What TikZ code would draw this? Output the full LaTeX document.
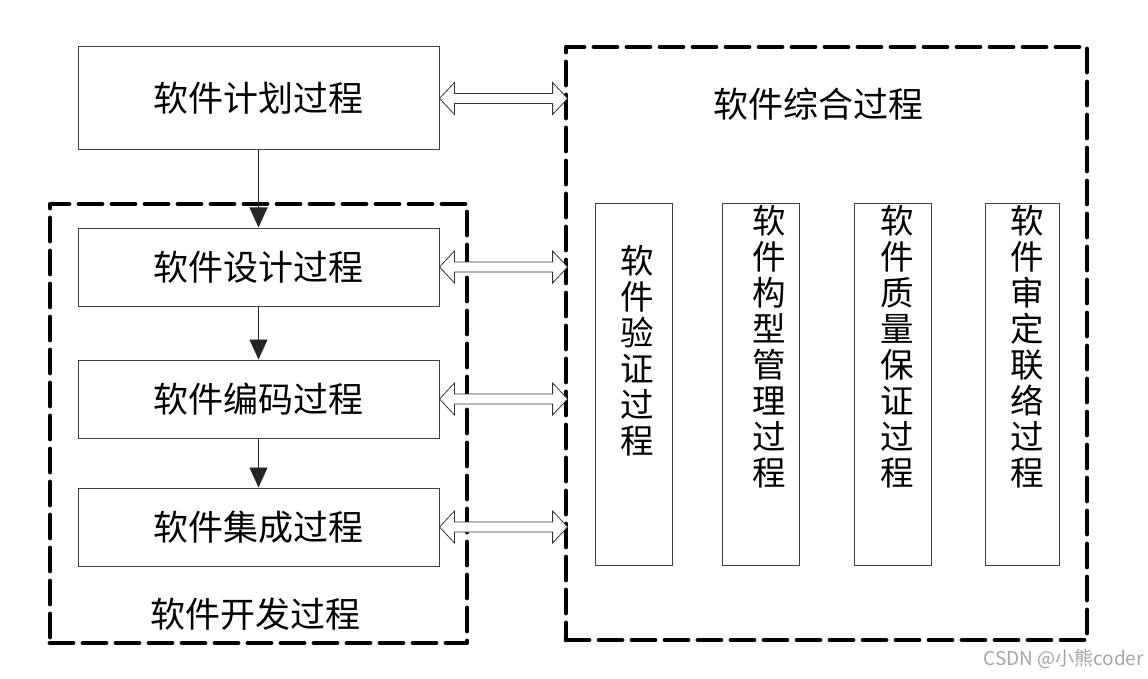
\documentclass[tikz,border=0pt]{standalone}
\usepackage{fontspec}
\newfontfamily\cjk{Noto Sans CJK SC}
\usetikzlibrary{calc,arrows.meta}
\newcommand\dblarrow[2]{\draw[black!80, line width=0.8pt, fill=white] let \p1=#1, \p2=#2 in
  (\x1,\y1) -- (\x1+15pt,\y1+16pt) -- (\x1+15pt,\y1+5pt) -- (\x2-15pt,\y1+5pt) -- (\x2-15pt,\y1+16pt)
  -- (\x2,\y1) -- (\x2-15pt,\y1-16pt) -- (\x2-15pt,\y1-5pt) -- (\x1+15pt,\y1-5pt) -- (\x1+15pt,\y1-16pt) -- cycle;}
\begin{document}
\begin{tikzpicture}[x=1pt,y=-1pt,
  txt/.style={font=\cjk\fontsize{35}{36}\selectfont},
  box/.style={txt, draw=black!75, line width=1pt, minimum width=361pt, minimum height=78pt, inner sep=0pt},
  vbox/.style={draw=black!75, line width=1pt, minimum width=77pt, minimum height=361pt, inner sep=0pt},
  vtext/.style={font=\cjk\fontsize{33.5}{36}\selectfont, align=center, anchor=north, inner sep=0pt},
  group/.style={draw, line width=4.8pt, dash pattern=on 23pt off 10pt, line cap=round, line join=round, inner sep=0pt},
  flow/.style={draw=black!85, line width=0.9pt, -{Triangle[length=20pt,width=18pt]}},
]
\useasboundingbox (0,0) rectangle (1148,679);
\fill[white] (0,0) rectangle (1148,679);

% groups
\node[group, minimum width=417pt, minimum height=439pt] (dev) at (258.5,423.5) {};
\node[txt] (devlabel) at (255,614) {软件开发过程};
\node[group, minimum width=521pt, minimum height=593pt] (synth) at (826.5,343.5) {};
\node[txt] (synthlabel) at (818,104) {软件综合过程};

% left boxes
\node[box, minimum height=103pt] (plan) at (258.5,98.5) {软件计划过程};
\node[box] (design) at (258.5,267) {软件设计过程};
\node[box] (coding) at (258.5,399) {软件编码过程};
\node[box] (integ) at (258.5,527) {软件集成过程};

% vertical boxes
\node[vbox] (verif) at (633.5,384.5) {};
\node[vbox] (config) at (761,384.5) {};
\node[vbox] (qa) at (892.5,384.5) {};
\node[vbox, minimum width=74pt] (cert) at (1022,384.5) {};
\node[vtext] (veriftxt) at (637,245) {软\\件\\验\\证\\过\\程};
\node[vtext] (configtxt) at (769,205) {软\\件\\构\\型\\管\\理\\过\\程};
\node[vtext] (qatxt) at (897,205) {软\\件\\质\\量\\保\\证\\过\\程};
\node[vtext] (certtxt) at (1027,205) {软\\件\\审\\定\\联\\络\\过\\程};

% flow arrows
\draw[flow] (plan.south) -- (design.north);
\draw[flow] (design.south) -- (coding.north);
\draw[flow] (coding.south) -- (integ.north);

% double arrows
\dblarrow{(plan.east)}{($(plan.east -| synth.west)+(4,0)$)}
\dblarrow{(design.east)}{($(design.east -| synth.west)+(4,0)$)}
\dblarrow{(coding.east)}{($(coding.east -| synth.west)+(4,0)$)}
\dblarrow{(integ.east)}{($(integ.east -| synth.west)+(4,0)$)}

% watermark
\node[font=\cjk\fontsize{19}{19}\selectfont, text=black!35, anchor=east, inner sep=0pt] (wm) at (1144,659) {CSDN @小熊coder};
\end{tikzpicture}
\end{document}
